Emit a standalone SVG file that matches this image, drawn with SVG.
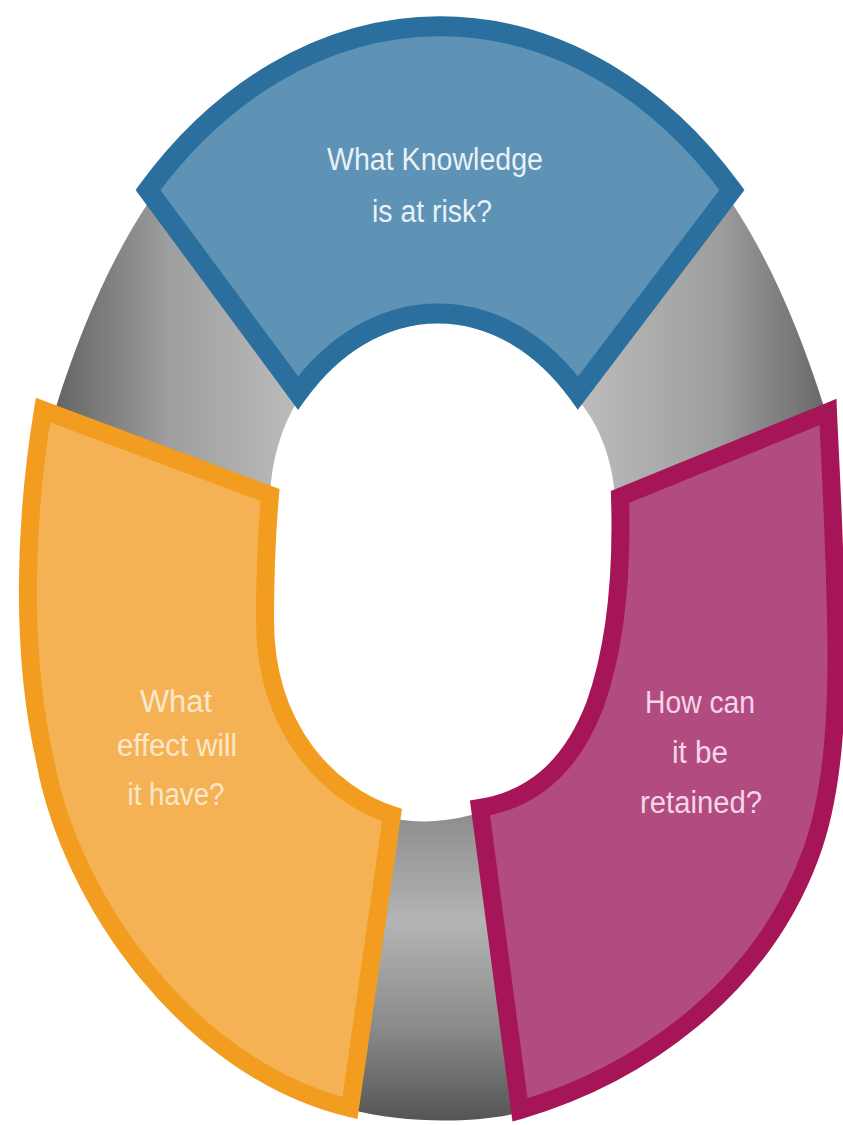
<svg xmlns="http://www.w3.org/2000/svg" width="843" height="1125" viewBox="0 0 843 1125">
<defs>
<linearGradient id="gUL" x1="60" y1="0" x2="300" y2="0" gradientUnits="userSpaceOnUse">
<stop offset="0" stop-color="#666666"/><stop offset="0.45" stop-color="#9e9e9e"/><stop offset="1" stop-color="#bcbcbc"/>
</linearGradient>
<linearGradient id="gUR" x1="830" y1="0" x2="580" y2="0" gradientUnits="userSpaceOnUse">
<stop offset="0" stop-color="#666666"/><stop offset="0.45" stop-color="#9e9e9e"/><stop offset="1" stop-color="#bcbcbc"/>
</linearGradient>
<linearGradient id="gB" x1="0" y1="815" x2="0" y2="1120" gradientUnits="userSpaceOnUse">
<stop offset="0" stop-color="#8e8e8e"/><stop offset="0.35" stop-color="#b4b4b4"/><stop offset="0.7" stop-color="#8a8a8a"/><stop offset="1" stop-color="#555555"/>
</linearGradient>
<style>
.t{font-family:"Liberation Sans",Arial,sans-serif;font-size:31px;text-anchor:middle}
.seg{stroke-linejoin:miter;stroke-miterlimit:10}
</style>
</defs>
<rect width="843" height="1125" fill="#ffffff"/>
<g id="gaps">
<path d="M150,200 C110,260 80,330 55,410 L270,495 C272,460 280,430 298,400 Z" fill="url(#gUL)"/>
<path d="M730,200 C770,260 800,330 825,410 L615,495 C612,460 600,425 578,400 Z" fill="url(#gUR)"/>
<path d="M390,818 L352,1110 C400,1122 470,1125 522,1112 L482,812 C450,822 420,824 390,818 Z" fill="url(#gB)"/>
</g>
<g id="node-knowledge">
<path class="seg" d="M148,190 A408,543 0 0 1 732,190 L578,393 A195,262 0 0 0 298,393 Z" fill="#5e93b5" stroke="#2a6f9d" stroke-width="20"/>
<text class="t" x="435" y="170" textLength="216" lengthAdjust="spacingAndGlyphs" fill="#e9f1f8">What Knowledge</text>
<text class="t" x="432" y="222" textLength="120" lengthAdjust="spacingAndGlyphs" fill="#e9f1f8">is at risk?</text>
</g>
<g id="node-effect">
<path class="seg" d="M43,410 C25,520 20,650 45,760 C70,900 190,1070 350,1108 L392,815 C330,795 265,730 265,620 C265,570 267,530 270,495 Z" fill="#f5b254" stroke="#f39d20" stroke-width="18"/>
<text class="t" x="176" y="712" textLength="72" lengthAdjust="spacingAndGlyphs" fill="#fbe8cc">What</text>
<text class="t" x="177" y="756" textLength="120" lengthAdjust="spacingAndGlyphs" fill="#fbe8cc">effect will</text>
<text class="t" x="176" y="805" textLength="97" lengthAdjust="spacingAndGlyphs" fill="#fbe8cc">it have?</text>
</g>
<g id="node-retained">
<path class="seg" d="M828,412 L620,497 C622,560 618,640 595,705 C570,770 530,800 480,808 L520,1110 C640,1075 760,990 810,856 C835,790 838,700 836,620 C834,520 830,460 828,412 Z" fill="#b24c80" stroke="#a51558" stroke-width="18"/>
<text class="t" x="700" y="713" textLength="110" lengthAdjust="spacingAndGlyphs" fill="#f5d6e7">How can</text>
<text class="t" x="700" y="763" textLength="56" lengthAdjust="spacingAndGlyphs" fill="#f5d6e7">it be</text>
<text class="t" x="701" y="813" textLength="122" lengthAdjust="spacingAndGlyphs" fill="#f5d6e7">retained?</text>
</g>
</svg>
